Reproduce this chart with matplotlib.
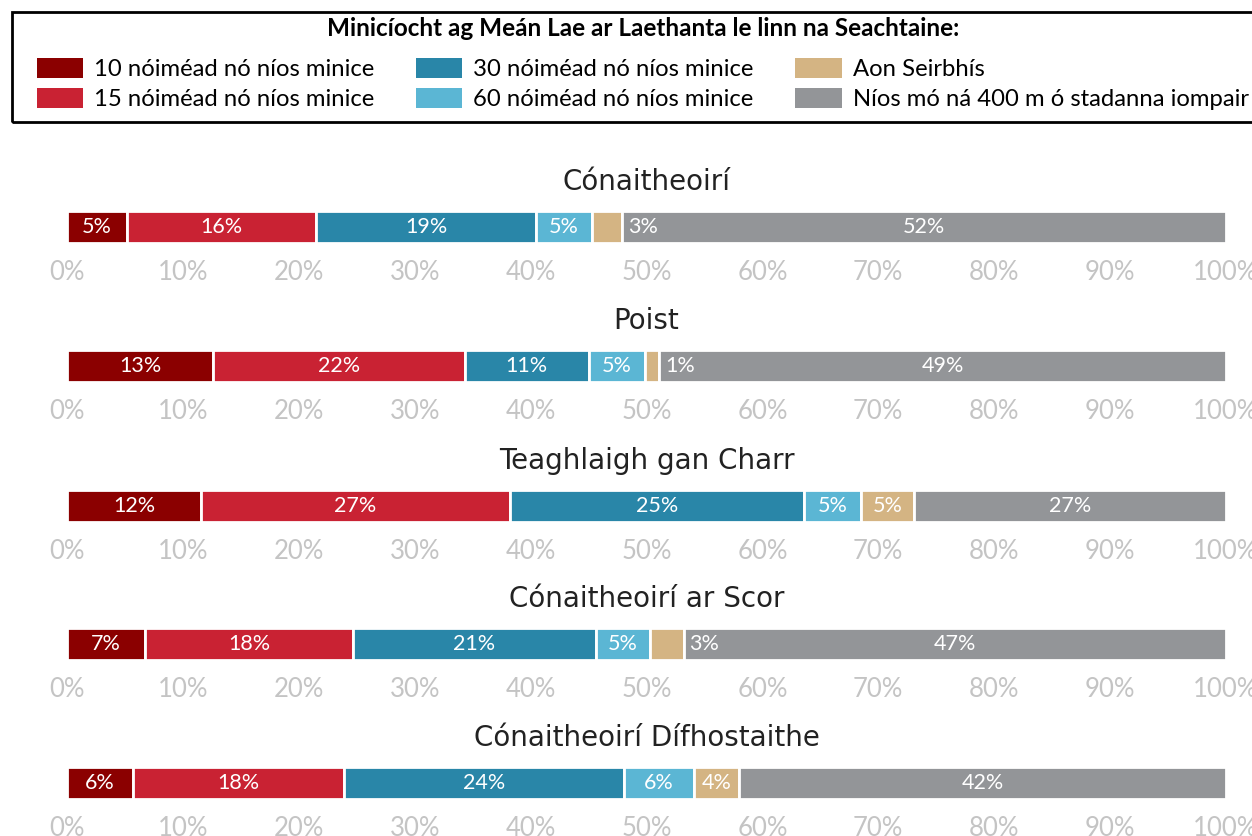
import matplotlib
matplotlib.use("Agg")
import matplotlib.pyplot as plt
from matplotlib.patches import Rectangle
import numpy as np

# Datos (porcentajes por grupo)
groups = ["Cónaitheoirí", "Poist", "Teaghlaigh gan Charr",
          "Cónaitheoirí ar Scor", "Cónaitheoirí Dífhostaithe"]
categories = ["10 nóiméad nó níos minice", "15 nóiméad nó níos minice",
              "30 nóiméad nó níos minice", "60 nóiméad nó níos minice",
              "Aon Seirbhís", "Níos mó ná 400 m ó stadanna iompair"]
values = [
    [5.2, 16.3, 19.0, 4.8, 2.6, 52.1],
    [12.6, 21.7, 10.7, 4.9, 1.2, 48.9],
    [11.6, 26.6, 25.4, 4.9, 4.6, 26.9],
    [6.7, 18.0, 20.9, 4.7, 2.9, 46.8],
    [5.7, 18.2, 24.2, 6.0, 3.9, 42.0],
]
colors = ["#8b0000", "#c92233", "#2986a8", "#5bb6d4", "#d4b483", "#939598"]
legend_title = "Minicíocht ag Meán Lae ar Laethanta le linn na Seachtaine:"

label_font = "Lato"

fig = plt.figure(figsize=(12.52, 8.36), dpi=100)
W, H = 1252, 836

bar_tops = [211, 350, 490, 628, 767]
bar_h = 32
x0, x1 = 67, 1226

for i, (grp, vals) in enumerate(zip(groups, values)):
    bottom = 1 - (bar_tops[i] + bar_h) / H
    ax = fig.add_axes([x0 / W, bottom, (x1 - x0) / W, bar_h / H])
    left = 0
    for j, v in enumerate(vals):
        ax.barh(0, v, left=left, height=1, color=colors[j], edgecolor="white",
                linewidth=2, label=categories[j])
        txt = f"{round(v)}%"
        if v < 3.5:
            # etiqueta fuera del segmento si es muy estrecho
            ax.text(left + v + 0.5, 0, txt, ha="left", va="center",
                    color="white", fontsize=15.5, family=label_font)
        else:
            ax.text(left + v / 2, 0, txt, ha="center", va="center",
                    color="white", fontsize=15.5, family=label_font)
        left += v
    ax.set_xlim(0, 100)
    ax.set_ylim(-0.5, 0.5)
    ax.set_yticks([])
    ax.set_xticks(np.arange(0, 101, 10))
    ax.set_xticklabels([f"{t}%" for t in range(0, 101, 10)],
                       family=label_font, fontsize=18.5, color="#c4c4c4")
    ax.tick_params(axis="x", length=0, pad=12)
    for s in ax.spines.values():
        s.set_visible(False)
    ax.set_title(grp, fontsize=20, color="#222222", pad=15)
    if i == 0:
        handles, labels = ax.get_legend_handles_labels()

# caja de la leyenda (se sale por la derecha como en el original)
fig.patches.append(Rectangle((12 / W, 1 - 122 / H), 1.0, 110 / H,
                             transform=fig.transFigure, fill=False,
                             edgecolor="black", linewidth=2))

fs = 17.2
leg = fig.legend(handles, labels, loc="upper left",
                 bbox_to_anchor=(37 / W, 1 - 17 / H), ncol=3,
                 title=legend_title, frameon=False,
                 borderpad=0, borderaxespad=0,
                 handlelength=1.93, handleheight=0.92, handletextpad=0.46,
                 columnspacing=1.75, labelspacing=0.33,
                 prop={"family": label_font, "size": fs},
                 title_fontproperties={"family": label_font, "size": 17.5,
                                       "weight": "bold"})
leg._legend_box.sep = 0.33 * fs + 7
for h in leg.legend_handles:
    h.set_edgecolor("none")

fig.savefig("out.png", dpi=100)
